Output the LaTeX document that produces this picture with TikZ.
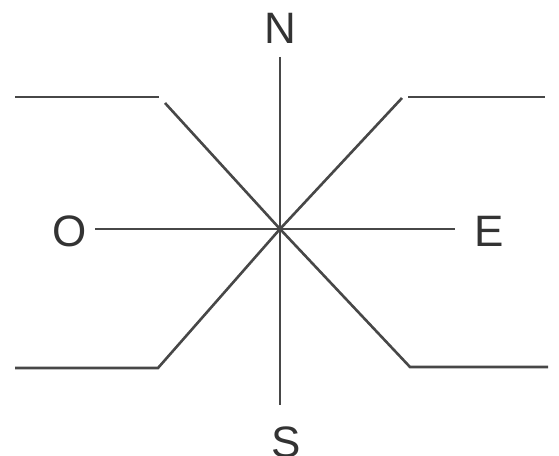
\documentclass[tikz,border=0pt]{standalone}
\usepackage{fontspec}
\setmainfont{Liberation Sans}
\begin{document}
\begin{tikzpicture}[x=1pt,y=1pt,
  ln/.style={draw=black!72, line width=2.6pt},
  lbl/.style={font=\fontsize{44}{44}\selectfont, text=black!80, inner sep=0pt}]
\useasboundingbox (0,0) rectangle (559,455);
\coordinate (c) at (280,226);
\node[lbl] (n) at (280,427) {N};
\node[lbl] (s) at (286,13) {S};
\node[lbl] (o) at (70,224) {O};
\node[lbl] (e) at (489,224) {E};
\coordinate (vt) at (280,398);
\coordinate (vb) at (280,50);
\coordinate (hl) at (95,226);
\coordinate (hr) at (455,226);
\draw[ln] (vt) -- (vb);
\draw[ln] (hl) -- (hr);
% upper left
\coordinate (ul1) at (15,358);
\coordinate (ul2) at (159,358);
\coordinate (ul3) at (165,352);
\draw[ln] (ul1) -- (ul2);
\draw[ln] (ul3) -- (c);
% upper right
\coordinate (ur1) at (402,357);
\coordinate (ur2) at (408,358);
\coordinate (ur3) at (545,358);
\draw[ln] (c) -- (ur1);
\draw[ln] (ur2) -- (ur3);
% lower left
\coordinate (ll1) at (15,87);
\coordinate (ll2) at (158,87);
\draw[ln] (ll1) -- (ll2) -- (c);
% lower right
\coordinate (lr1) at (410,88);
\coordinate (lr2) at (548,88);
\draw[ln] (c) -- (lr1) -- (lr2);
\end{tikzpicture}
\end{document}
